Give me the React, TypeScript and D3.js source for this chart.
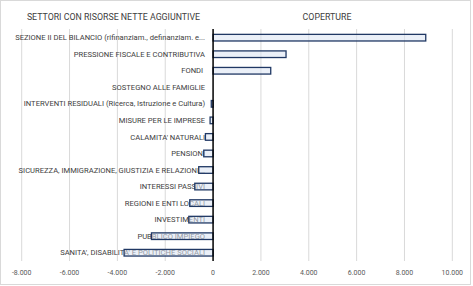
import React from 'react';
import * as d3 from 'd3';

const categories = [
  'SEZIONE II DEL BILANCIO (rifinanziam., definanziam. e...',
  'PRESSIONE FISCALE E CONTRIBUTIVA',
  'FONDI ',
  'SOSTEGNO ALLE FAMIGLIE',
  'INTERVENTI RESIDUALI (Ricerca, Istruzione e Cultura)',
  'MISURE PER LE IMPRESE',
  "CALAMITA' NATURALI",
  'PENSIONI',
  'SICUREZZA, IMMIGRAZIONE, GIUSTIZIA E RELAZIONI...',
  'INTERESSI PASSIVI',
  'REGIONI E ENTI LOCALI',
  'INVESTIMENTI',
  'PUBBLICO IMPIEGO',
  "SANITA', DISABILITA' E POLITICHE SOCIALI",
];

const values = [8890, 3050, 2410, 0, -75, -125, -320, -390, -600, -765, -975, -1015, -2575, -3720];

const tickValues = [-8000, -6000, -4000, -2000, 0, 2000, 4000, 6000, 8000, 10000];

const itLocale = d3.formatLocale({ decimal: ',', thousands: '.', grouping: [3], currency: ['€', ''], minus: '-' });
const fmt = itLocale.format(',');

const xScale = d3.scaleLinear()
              .domain([-8000, 10000])
              .range([21.7, 452.3]);

const yScale = d3.scaleBand<string>()
              .domain(categories)
              .range([29.4, 261])
              .paddingInner(0.6)
              .paddingOuter(0.3);

const font = 'Roboto, "Liberation Sans", sans-serif';

export default function App() {
  const top = 29;
  const bottom = 261;
  const x0 = xScale(0);
  return (
    <svg width={473} height={286} style={{ position: 'absolute', left: 0, top: 0 }}>
      <rect x={0} y={0} width={473} height={286} fill="#fff" />
      <rect x={0.5} y={0.5} width={470} height={284} fill="none" stroke="#d9d9d9" />

      {/* titles */}
      <text x={113.5} y={20} textAnchor="middle" fontFamily={font} fontSize={8.8} fill="#404040">
        SETTORI CON RISORSE NETTE AGGIUNTIVE
      </text>
      <text x={327} y={20} textAnchor="middle" fontFamily={font} fontSize={8.8} fill="#404040">
        COPERTURE
      </text>

      {/* gridlines */}
      {tickValues.filter((t) => t !== 0).map((t) => (
        <line key={t} x1={xScale(t)} x2={xScale(t)} y1={top} y2={bottom} stroke="#d9d9d9" strokeWidth={1} />
      ))}

      {/* tick labels */}
      {tickValues.map((t) => (
        <text key={'l' + t} x={xScale(t)} y={275} textAnchor="middle" fontFamily={font} fontSize={7} fill="#595959">
          {fmt(t)}
        </text>
      ))}

      {/* category labels */}
      {categories.map((c) => (
        <text key={'c' + c} x={x0 - 8} y={yScale(c)! + yScale.bandwidth() / 2 + 2.6}
          textAnchor="end" fontFamily={font} fontSize={7.6} fill="#404040" style={{ whiteSpace: 'pre' }}>
          {c}
        </text>
      ))}

      {/* bars */}
      {categories.map((c, i) => {
        const v = values[i];
        if (v === 0) return null;
        const xa = Math.min(xScale(0), xScale(v));
        const w = Math.abs(xScale(v) - xScale(0));
        return (
          <rect key={'b' + c} x={xa} y={yScale(c)} width={w} height={yScale.bandwidth()}
            fill="#dae3f3" fillOpacity={0.55} stroke="#203864" strokeWidth={1.3} />
        );
      })}

      {/* zero axis */}
      <line x1={x0} x2={x0} y1={top} y2={bottom} stroke="#000" strokeWidth={1.5} />
    </svg>
  );
}
